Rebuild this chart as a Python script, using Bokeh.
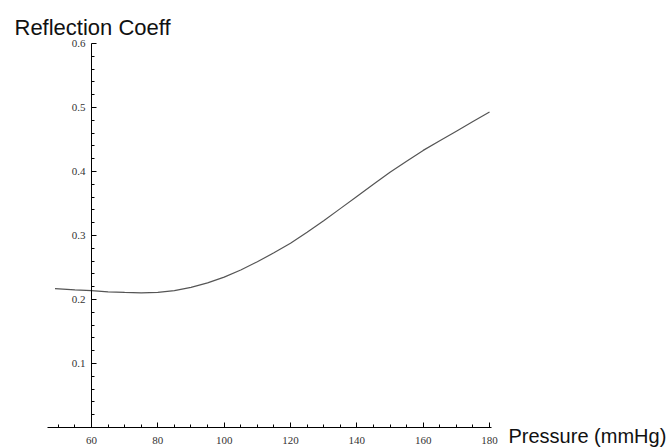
from bokeh.plotting import figure
from bokeh.models import Label, FixedTicker, Range1d
from bokeh.embed import file_html
from bokeh.resources import INLINE

# data
pressure = [49, 55, 60, 65, 70, 75, 80, 85, 90, 95, 100, 105, 110, 115, 120,
            125, 130, 135, 140, 145, 150, 155, 160, 165, 170, 175, 180]
reflection = [0.217, 0.215, 0.214, 0.212, 0.211, 0.2105, 0.211, 0.214, 0.219,
              0.226, 0.235, 0.246, 0.259, 0.273, 0.288, 0.305, 0.323, 0.342,
              0.361, 0.380, 0.399, 0.416, 0.433, 0.448, 0.463, 0.478, 0.493]
x_ticks = [60, 80, 100, 120, 140, 160, 180]
x_minor = [50, 55, 65, 70, 75, 85, 90, 95, 105, 110, 115, 125, 130, 135,
           145, 150, 155, 165, 170, 175]
y_ticks = [0.1, 0.2, 0.3, 0.4, 0.5, 0.6]
y_minor = [0.02, 0.04, 0.06, 0.08, 0.12, 0.14, 0.16, 0.18, 0.22, 0.24, 0.26,
           0.28, 0.32, 0.34, 0.36, 0.38, 0.42, 0.44, 0.46, 0.48, 0.52, 0.54,
           0.56, 0.58]
y_title = "Reflection Coeff"
x_title = "Pressure (mmHg)"

p = figure(width=672, height=448, output_backend="svg", toolbar_location=None,
           x_range=Range1d(32.57, 235.16), y_range=Range1d(-0.0328, 0.6672),
           min_border=0, min_border_left=0, min_border_right=0,
           min_border_top=0, min_border_bottom=0)
p.outline_line_color = None
p.background_fill_color = "white"
p.border_fill_color = "white"
p.grid.visible = False

p.line(pressure, reflection, line_color="#555555", line_width=1.2)

xa = p.xaxis[0]
xa.fixed_location = 0
xa.bounds = (46.7, 180.6)
xa.ticker = FixedTicker(ticks=x_ticks, minor_ticks=x_minor)
xa.major_tick_in = 5
xa.major_tick_out = 0
xa.minor_tick_in = 3
xa.minor_tick_out = 0
xa.axis_line_color = "black"
xa.major_label_standoff = 9
xa.major_label_text_font = "Liberation Serif"
xa.major_label_text_font_size = "11px"
xa.major_label_text_color = "#333333"

ya = p.yaxis[0]
ya.fixed_location = 60
ya.bounds = (0, 0.6)
ya.ticker = FixedTicker(ticks=y_ticks, minor_ticks=y_minor)
ya.major_tick_in = 5
ya.major_tick_out = 0
ya.minor_tick_in = 3
ya.minor_tick_out = 0
ya.axis_line_color = "black"
ya.major_label_standoff = 6
ya.major_label_text_font = "Liberation Serif"
ya.major_label_text_font_size = "11px"
ya.major_label_text_color = "#333333"

p.add_layout(Label(x=14, y=421, x_units="screen", y_units="screen", text=y_title,
                   text_font="Liberation Sans", text_font_size="22px",
                   text_color="#111111", text_baseline="alphabetic"))
p.add_layout(Label(x=508, y=13, x_units="screen", y_units="screen", text=x_title,
                   text_font="Liberation Sans", text_font_size="20px",
                   text_color="#111111", text_baseline="alphabetic"))

open("out.html", "w").write(file_html(p, INLINE))
